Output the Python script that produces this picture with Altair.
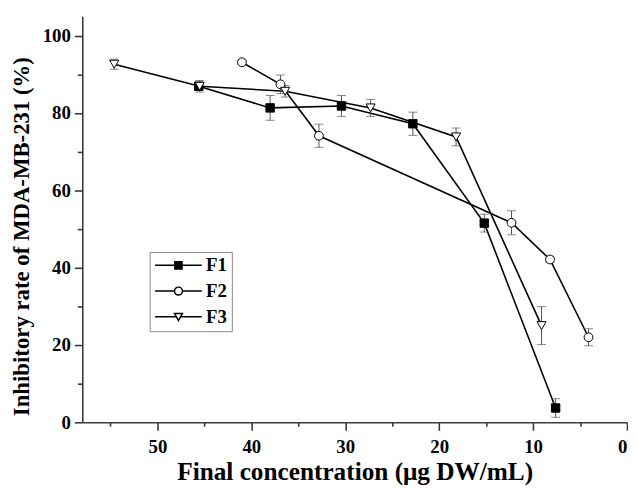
import altair as alt
import pandas as pd

series_names = ["F1", "F2", "F3"]

f1_x = [45.6, 38.0, 30.4, 22.8, 15.2, 7.6]
f1_y = [86.9, 81.3, 81.8, 77.2, 51.5, 3.7]
f1_err = [0.8, 3.2, 2.7, 3.0, 2.3, 2.4]

f2_x = [41.0, 36.9, 32.8, 12.3, 8.2, 4.1]
f2_y = [93.1, 87.4, 74.1, 51.6, 42.1, 22.0]
f2_err = [0.5, 2.4, 3.0, 3.1, 0.8, 2.2]

f3_x = [54.6, 45.5, 36.4, 27.3, 18.2, 9.1]
f3_y = [92.6, 86.9, 85.6, 81.3, 73.8, 25.0]
f3_err = [1.3, 1.5, 1.5, 2.2, 2.3, 4.9]

x_ticks = [0, 5, 10, 15, 20, 25, 30, 35, 40, 45, 50, 55]
y_ticks = [0, 10, 20, 30, 40, 50, 60, 70, 80, 90, 100]

rows = []
for name, xs, ys, es in [("F1", f1_x, f1_y, f1_err), ("F2", f2_x, f2_y, f2_err), ("F3", f3_x, f3_y, f3_err)]:
    for x, y, e in zip(xs, ys, es):
        rows.append({"series": name, "x": x, "y": y, "lo": y - e, "hi": y + e})
df = pd.DataFrame(rows)

caps = []
for r in rows:
    caps.append({"series": r["series"], "x": r["x"], "v": r["lo"]})
    caps.append({"series": r["series"], "x": r["x"], "v": r["hi"]})
caps_df = pd.DataFrame(caps)

FONT = "Liberation Serif"
AX = "#3a3a3a"

xscale = alt.Scale(domain=[0, 58], reverse=True, nice=False, zero=False)
yscale = alt.Scale(domain=[0, 105], nice=False)

xaxis = alt.Axis(
    values=x_ticks,
    labelExpr="datum.value % 10 === 0 ? datum.label : ''",
    tickSize={"condition": {"test": "datum.value % 10 === 0", "value": 8}, "value": 4},
    title="Final concentration (μg DW/mL)",
    titleY=58, titleBaseline="alphabetic",
    titleFontSize=25.5, labelFontSize=19, labelPadding=7,
    grid=False,
)
yaxis = alt.Axis(
    values=y_ticks,
    labelExpr="datum.value % 20 === 0 ? datum.label : ''",
    tickSize={"condition": {"test": "datum.value % 20 === 0", "value": 8}, "value": 5},
    title="Inhibitory rate of MDA-MB-231 (%)",
    titleY=222,
    titleFontSize=23, labelFontSize=19, labelPadding=4, titlePadding=9,
    grid=False,
)

base = alt.Chart(df)

lines = base.mark_line(color="black", strokeWidth=1.6).encode(
    x=alt.X("x:Q", scale=xscale, axis=xaxis),
    y=alt.Y("y:Q", scale=yscale, axis=yaxis),
    detail="series:N",
)

bars = base.mark_rule(color="#555555", strokeWidth=1).encode(
    x="x:Q", y="lo:Q", y2="hi:Q"
)

capmarks = alt.Chart(caps_df).mark_tick(orient="horizontal", color="#555555", size=9, thickness=1).encode(
    x="x:Q", y="v:Q"
)

points = base.mark_point(filled=True, stroke="black", strokeWidth=1, opacity=1).encode(
    x="x:Q",
    y="y:Q",
    shape=alt.Shape("series:N", scale=alt.Scale(domain=series_names, range=["square", "circle", "triangle-down"]), legend=None),
    fill=alt.Fill("series:N", scale=alt.Scale(domain=series_names, range=["black", "white", "white"]), legend=None),
    size=alt.Size("series:N", scale=alt.Scale(domain=series_names, range=[72, 85, 115]), legend=None),
)

leg_paths = [
    "M-1,0H4.9M1.5,-0.45H2.4V0.45H1.5Z",
    "M-1,0H1.45M2.45,0H4.9M1.45,0A0.5,0.5,0,1,0,2.45,0A0.5,0.5,0,1,0,1.45,0Z",
    "M-1,0H1.7M2.2,0H4.9M1.45,-0.42L2.45,-0.42L1.95,0.45Z",
]

legend = alt.Legend(
    title=None, orient="none", legendX=68, legendY=238,
    strokeColor="#888888", padding=4, cornerRadius=0,
    symbolSize=256, symbolStrokeWidth=1.5, symbolOpacity=1,
    labelFont=FONT, labelFontSize=19, labelFontWeight="bold", labelColor="black",
    labelOffset=34, rowPadding=6,
)

legend_layer = base.mark_point(filled=True, opacity=0, strokeWidth=1.5).encode(
    x="x:Q",
    y="y:Q",
    shape=alt.Shape("series:N", scale=alt.Scale(domain=series_names, range=leg_paths), legend=legend),
    fill=alt.Fill("series:N", scale=alt.Scale(domain=series_names, range=["black", "white", "white"]), legend=legend),
    stroke=alt.Stroke("series:N", scale=alt.Scale(domain=series_names, range=["black", "black", "black"]), legend=legend),
)

chart = alt.layer(legend_layer, lines, bars, capmarks, points).resolve_scale(
    shape="independent", fill="independent", stroke="independent"
).properties(
    width=550, height=410,
    padding={"left": 2, "top": 6, "right": 0, "bottom": 0},
    background="white",
).configure_view(stroke=None).configure_axis(
    domainColor=AX, domainWidth=1.6, tickColor=AX, tickWidth=1.6,
    labelFont=FONT, labelFontWeight="bold", labelColor="black",
    titleFont=FONT, titleFontWeight="bold", titleColor="black",
)

chart.save("out.html", embed_options={"renderer": "svg", "actions": False})
